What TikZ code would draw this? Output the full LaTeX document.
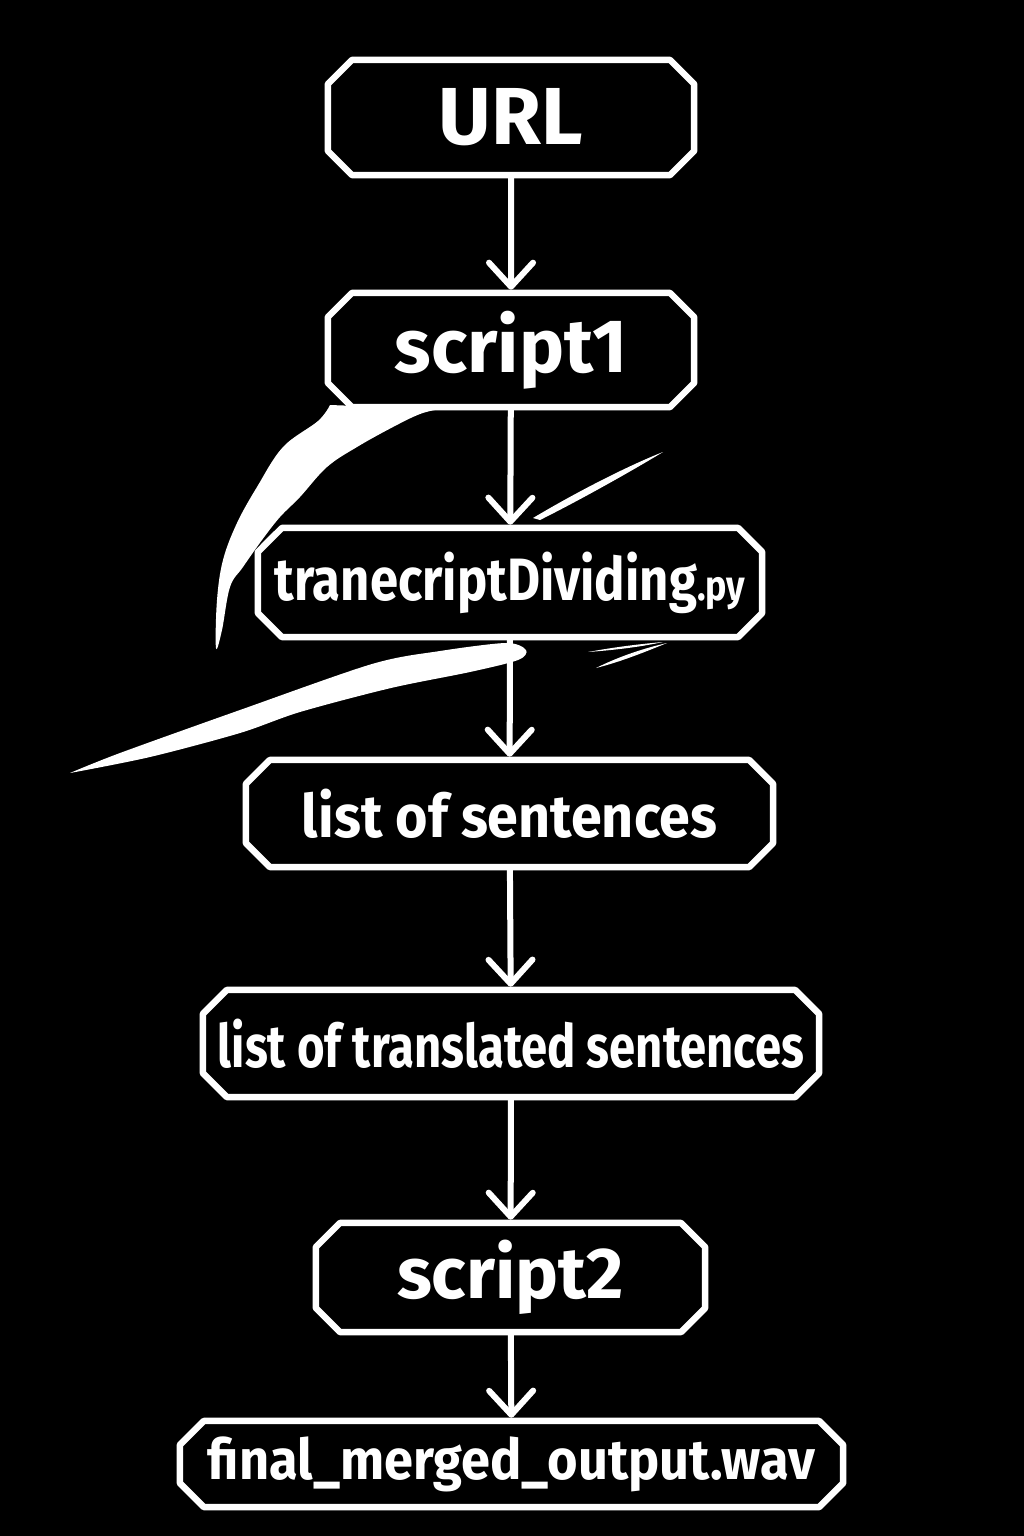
\documentclass[tikz,border=0pt]{standalone}
\usepackage{graphicx}
\usepackage{fontspec}
\setmainfont{Fira Sans}
\usetikzlibrary{shapes.misc,arrows.meta}

% squeeze a label sideways
\newcommand{\squeezed}[2]{\scalebox{#1}[1]{#2}}

\begin{document}
\begin{tikzpicture}
	[
		x=0.01cm, y=-0.01cm,
		% Make a style for a stage box.
		stagebox/.style={chamfered rectangle, chamfered rectangle xsep=0.12cm,
			chamfered rectangle ysep=0.12cm, draw=white, line width=0.065cm,
			text=white, inner sep=0pt, line join=round},
		% And one for the arrows between them.
		flow/.style={draw=white, line width=0.06cm, line cap=round,
			-{Straight Barb[length=2.4mm,width=4.4mm,line cap=round,line join=round]}},
		% The brush stroke behind the boxes.
		brush/.style={fill=white, draw=none}
	]
		\fill[black] (0,0) rectangle (1024,1536);
		\useasboundingbox (0,0) rectangle (1024,1536);

		% Brush stroke
		\path[brush] plot[smooth, tension=0.6] coordinates {(330,405) (318,421) (283,447)
			(257,487) (237,523) (223,560) (217,600) (216,648) (222,630) (230,587) (243,567)
			(262,540) (280,517) (300,497) (327,467) (357,447) (393,427) (420,414) (440,409)}
			-- cycle;
		\path[brush] plot[smooth, tension=0.5] coordinates {(70,773) (120,753) (240,710)
			(372,664) (440,651) (506,643) (526,650) (518,660) (470,672) (391,688)
			(300,712) (240,733) (150,757) (70,773)} -- cycle;
		\path[brush] (533,518) .. controls (580,490) and (630,465) .. (663,452)
			.. controls (630,472) and (580,500) .. (540,520) -- cycle;
		\path[brush] (596,668) .. controls (620,656) and (645,648) .. (667,643)
			.. controls (645,652) and (620,662) .. (596,668) -- cycle;
		\path[brush] (588,652) .. controls (615,647) and (640,644) .. (663,642)
			.. controls (640,647) and (615,650) .. (588,652) -- cycle;

		% Boxes
		\node[stagebox, minimum width=3.66cm, minimum height=1.15cm,
			font=\bfseries\fontsize{23}{23}\selectfont] (url) at (511,117.5) {URL};
		\node[stagebox, minimum width=3.66cm, minimum height=1.14cm,
			font=\bfseries\fontsize{21.5}{21.5}\selectfont] (scriptone) at (511,350) {script1};
		\node[stagebox, fill=black, minimum width=5.04cm, minimum height=1.09cm,
			font=\bfseries\fontsize{17}{17}\selectfont] (dividing) at (510,582.5)
			{\squeezed{0.85}{tranecriptDividing{\fontsize{12}{12}\selectfont.py}}};
		\node[stagebox, minimum width=5.27cm, minimum height=1.07cm,
			font=\bfseries\fontsize{17}{17}\selectfont] (sentences) at (509.5,813.5)
			{\squeezed{0.93}{list of sentences}};
		\node[stagebox, minimum width=6.16cm, minimum height=1.07cm,
			font=\bfseries\fontsize{17}{17}\selectfont] (translated) at (511,1043.5)
			{\squeezed{0.79}{list of translated sentences}};
		\node[stagebox, minimum width=3.89cm, minimum height=1.09cm,
			font=\bfseries\fontsize{20.5}{20.5}\selectfont] (scripttwo) at (510.5,1277.5) {script2};
		\node[stagebox, minimum width=6.63cm, minimum height=0.86cm,
			font=\bfseries\fontsize{16}{16}\selectfont] (wavout) at (511.5,1464)
			{\squeezed{0.93}{final\_merged\_output.wav}};

		% Draw arrows
		\draw[flow] (url) -- (scriptone);
		\draw[flow] (scriptone) -- (dividing);
		\draw[flow] (dividing) -- (sentences);
		\draw[flow] (sentences) -- (translated);
		\draw[flow] (translated) -- (scripttwo);
		\draw[flow] (scripttwo) -- (wavout);
	\end{tikzpicture}
\end{document}
